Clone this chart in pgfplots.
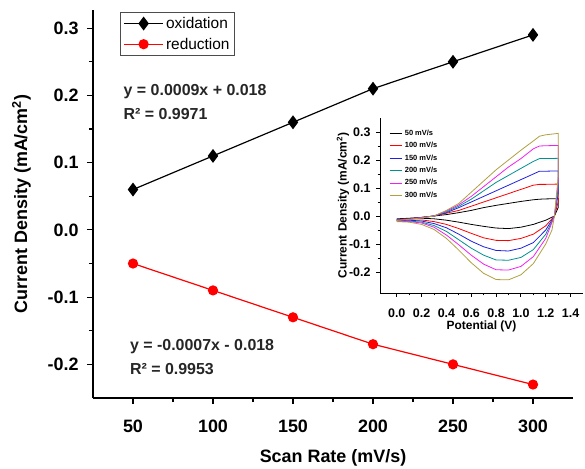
\documentclass[border=0pt]{standalone}
\usepackage{fontspec}
\setmainfont{Liberation Sans}
\usepackage{pgfplots}
\pgfplotsset{compat=1.18}
\definecolor{cvteal}{HTML}{009090}
\definecolor{cvolive}{HTML}{B0A040}
\definecolor{cvblue}{HTML}{2020E0}
\definecolor{cvmag}{HTML}{F020F0}
\begin{document}
\begin{tikzpicture}
\useasboundingbox (0,0) rectangle (585bp,469bp);
\begin{axis}[
  scale only axis, width=480bp, height=388bp,
  at={(93bp,71bp)}, anchor=south west,
  xmin=25, xmax=325, ymin=-0.25, ymax=0.327,
  axis x line=bottom, axis y line=left,
  axis line style={-, line width=1.3pt},
  xtick={50,100,150,200,250,300}, minor x tick num=1,
  ytick={-0.2,-0.1,0,0.1,0.2,0.3}, minor y tick num=1,
  tick align=outside, major tick length=6bp, minor tick length=4bp,
  tick style={line width=1.2pt, black},
  /pgf/number format/assume math mode=true,
  tick label style={font=\fontsize{18}{18}\selectfont\bfseries},
  yticklabel style={xshift=-5bp, /pgf/number format/.cd, fixed, fixed zerofill, precision=1},
  xticklabel style={yshift=-12bp, /pgf/number format/.cd, fixed, precision=0},
  label style={font=\fontsize{18}{20}\selectfont\bfseries},
  xlabel={Scan Rate (mV/s)},
  ylabel={Current Density (mA/cm\textsuperscript{2})},
  xlabel style={yshift=-10bp},
  ylabel style={yshift=10bp},
  legend style={at={(0.056,0.995)}, anchor=north west, draw=black!70, line width=0.6pt,
    font=\fontsize{15.5}{17}\selectfont, row sep=4pt, inner sep=3pt},
  legend cell align=left,
  legend image code/.code={\draw[mark repeat=2,mark phase=2] plot coordinates {(0cm,0cm) (0.7cm,0cm) (1.4cm,0cm)};},
  clip=false,
]
\addplot[black, line width=1.2pt, mark=diamond*, mark size=6bp] coordinates {
 (50,0.06) (100,0.11) (150,0.16) (200,0.21) (250,0.25) (300,0.29)};
\addlegendentry{oxidation}
\addplot[red, line width=1.2pt, mark=*, mark size=4.5bp] coordinates {
 (50,-0.05) (100,-0.09) (150,-0.13) (200,-0.17) (250,-0.20) (300,-0.23)};
\addlegendentry{reduction}
\node[anchor=west, font=\fontsize{16}{18}\selectfont\bfseries, color=black!85] at (axis cs:42,0.206) {y = 0.0009x + 0.018};
\node[anchor=west, font=\fontsize{16}{18}\selectfont\bfseries, color=black!85] at (axis cs:42,0.173) {R² = 0.9971};
\node[anchor=west, font=\fontsize{16}{18}\selectfont\bfseries, color=black!85] at (axis cs:46,-0.173) {y = -0.0007x - 0.018};
\node[anchor=west, font=\fontsize{16}{18}\selectfont\bfseries, color=black!85] at (axis cs:46,-0.207) {R² = 0.9953};
\end{axis}

\begin{axis}[
  scale only axis, width=203bp, height=175bp,
  at={(380bp,176bp)}, anchor=south west,
  xmin=-0.135, xmax=1.5, ymin=-0.275, ymax=0.35,
  axis x line=bottom, axis y line=left,
  axis line style={-, line width=1pt},
  xtick={0,0.2,0.4,0.6,0.8,1.0,1.2,1.4}, minor x tick num=1,
  ytick={-0.2,-0.1,0,0.1,0.2,0.3}, minor y tick num=1,
  tick align=outside, major tick length=4bp, minor tick length=2.5bp,
  tick style={line width=0.9pt, black},
  /pgf/number format/assume math mode=true,
  tick label style={font=\fontsize{12.5}{13}\selectfont\bfseries},
  xticklabel style={yshift=-8bp, /pgf/number format/.cd, fixed, fixed zerofill, precision=1},
  yticklabel style={xshift=-2bp, /pgf/number format/.cd, fixed, fixed zerofill, precision=1},
  label style={font=\fontsize{12}{13}\selectfont\bfseries},
  xlabel={Potential (V)},
  ylabel={Current Density (mA/cm\textsuperscript{2})},
  xlabel style={yshift=3bp},
  ylabel style={yshift=-7bp},
  legend style={at={(0.04,0.95)}, anchor=north west, draw=none, fill=none,
    font=\fontsize{7.5}{8}\selectfont\bfseries, text=black, row sep=1.5pt, inner sep=1pt},
  legend cell align=left,
  legend image code/.code={\draw plot coordinates {(0cm,0cm) (0.45cm,0cm)};},
  every axis plot/.append style={line width=0.8pt},
]
\addplot[black] coordinates {
 (0,-0.01) (0.1,-0.008) (0.2,-0.005) (0.3,0.0) (0.4,0.005) (0.5,0.012) (0.6,0.02) (0.7,0.03) (0.8,0.038) (0.9,0.045) (1.0,0.052) (1.1,0.058) (1.15,0.06) (1.2,0.061) (1.3,0.062)
 (1.3,0.03) (1.27,0.0) (1.2,-0.015) (1.1,-0.03) (1.0,-0.04) (0.9,-0.045) (0.8,-0.043) (0.7,-0.037) (0.6,-0.03) (0.5,-0.022) (0.4,-0.015) (0.3,-0.01) (0.2,-0.008) (0.1,-0.01) (0,-0.015)};
\addlegendentry{50 mV/s}
\addplot[red] coordinates {
 (0,-0.012) (0.1,-0.009) (0.2,-0.005) (0.3,0.0) (0.4,0.01) (0.5,0.02) (0.6,0.035) (0.7,0.05) (0.8,0.065) (0.9,0.08) (1.0,0.095) (1.1,0.11) (1.15,0.113) (1.2,0.113) (1.3,0.114)
 (1.3,0.05) (1.27,0.0) (1.2,-0.035) (1.1,-0.065) (1.0,-0.08) (0.9,-0.088) (0.8,-0.087) (0.7,-0.078) (0.6,-0.062) (0.5,-0.045) (0.4,-0.03) (0.3,-0.02) (0.2,-0.014) (0.1,-0.014) (0,-0.016)};
\addlegendentry{100 mV/s}
\addplot[cvblue] coordinates {
 (0,-0.013) (0.1,-0.01) (0.2,-0.005) (0.3,0.0) (0.4,0.012) (0.5,0.03) (0.6,0.05) (0.7,0.07) (0.8,0.09) (0.9,0.11) (1.0,0.13) (1.1,0.15) (1.15,0.16) (1.2,0.16) (1.3,0.161)
 (1.3,0.08) (1.27,0.0) (1.2,-0.05) (1.1,-0.095) (1.0,-0.115) (0.9,-0.125) (0.8,-0.123) (0.7,-0.11) (0.6,-0.09) (0.5,-0.065) (0.4,-0.042) (0.3,-0.027) (0.2,-0.018) (0.1,-0.015) (0,-0.017)};
\addlegendentry{150 mV/s}
\addplot[cvteal] coordinates {
 (0,-0.014) (0.1,-0.011) (0.2,-0.006) (0.3,0.0) (0.4,0.015) (0.5,0.035) (0.6,0.06) (0.7,0.09) (0.8,0.12) (0.9,0.145) (1.0,0.17) (1.1,0.195) (1.15,0.205) (1.2,0.205) (1.3,0.206)
 (1.3,0.1) (1.27,0.0) (1.2,-0.065) (1.1,-0.12) (1.0,-0.148) (0.9,-0.158) (0.8,-0.157) (0.7,-0.14) (0.6,-0.115) (0.5,-0.085) (0.4,-0.055) (0.3,-0.034) (0.2,-0.022) (0.1,-0.018) (0,-0.018)};
\addlegendentry{200 mV/s}
\addplot[cvmag] coordinates {
 (0,-0.015) (0.1,-0.012) (0.2,-0.006) (0.3,0.0) (0.4,0.018) (0.5,0.04) (0.6,0.07) (0.7,0.105) (0.8,0.14) (0.9,0.175) (1.0,0.205) (1.1,0.24) (1.15,0.25) (1.2,0.251) (1.3,0.252)
 (1.3,0.12) (1.27,0.0) (1.2,-0.08) (1.1,-0.145) (1.0,-0.18) (0.9,-0.193) (0.8,-0.192) (0.7,-0.172) (0.6,-0.14) (0.5,-0.103) (0.4,-0.068) (0.3,-0.04) (0.2,-0.025) (0.1,-0.02) (0,-0.02)};
\addlegendentry{250 mV/s}
\addplot[cvolive] coordinates {
 (0,-0.016) (0.1,-0.012) (0.2,-0.007) (0.3,0.0) (0.4,0.02) (0.5,0.045) (0.6,0.085) (0.7,0.125) (0.8,0.165) (0.9,0.2) (1.0,0.235) (1.1,0.268) (1.15,0.285) (1.2,0.29) (1.3,0.295)
 (1.3,0.14) (1.27,0.0) (1.25,-0.05) (1.2,-0.1) (1.1,-0.17) (1.0,-0.21) (0.9,-0.228) (0.8,-0.227) (0.7,-0.205) (0.6,-0.167) (0.5,-0.122) (0.4,-0.08) (0.3,-0.048) (0.2,-0.03) (0.1,-0.022) (0,-0.02)};
\addlegendentry{300 mV/s}
\end{axis}
\end{tikzpicture}
\end{document}
